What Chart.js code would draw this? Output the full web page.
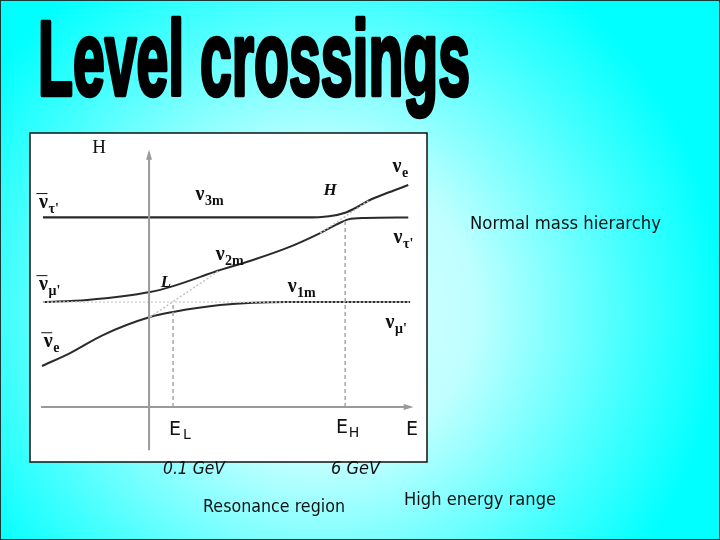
<!DOCTYPE html>
<html>
<head>
<meta charset="utf-8">
<script src="https://cdn.jsdelivr.net/npm/chart.js@4.4.1/dist/chart.umd.min.js"></script>
<style>
  html, body { margin: 0; padding: 0; background: #00ffff; }
  canvas { display: block; }
</style>
</head>
<body>
<canvas id="levels" width="720" height="540"></canvas>
<script>
// Energy (x) and H (y) in diagram units; vertical axis at E = 0, horizontal axis at H = 0
const level1 = 4.375;   // nu_mu' / nu_1m level
const level3 = 7.9;     // nu_tau' / nu_3m level
const E_L = 1;
const E_H = 8.17;

// nu_3m: flat, bends up into nu_e after the H crossing
const nu3mE = [-4.42, 6.5, 7.5, 8.17, 8.7, 9.2, 10, 10.8];
const nu3mH = [7.9, 7.9, 7.95, 8.1, 8.35, 8.63, 8.95, 9.25];

// nu_2m: from nu_mu' on the left, through L, flattens into nu_tau' on the right
const nu2mE = [-4.42, -2.58, 0.04, 1, 2.96, 4.33, 5.75, 7.13, 7.8, 8.3, 9, 10.8];
const nu2mH = [4.375, 4.46, 4.79, 5.04, 5.71, 6.13, 6.63, 7.25, 7.6, 7.82, 7.88, 7.9];

// nu_1m: from nu_e on the left, flattens into nu_mu' on the right
const nu1mE = [-4.46, -3.29, -1.92, 0.04, 1, 2.96, 5.75, 10.875];
const nu1mH = [1.71, 2.25, 3.0, 3.75, 3.96, 4.25, 4.375, 4.375];

// diabatic (non-adiabatic) continuations, dotted
const diabLE = [0.04, 2.96];
const diabLH = [3.75, 5.71];
const diabHE = [7.13, 9.2];
const diabHH = [7.25, 8.63];

const axisE = [-4.5, 10.9];
const axisH = [-1.8, 10.6];

const pts = (xs, ys) => xs.map((x, i) => ({ x: x, y: ys[i] }));

// text labels inside the diagram: [main, subscript, E, H, style]
const diagLabels = [
  ['H', '', -2.08, 10.79, 'serif'],
  ['ν', 'τ\'', -4.4, 8.5, 'bar'],
  ['ν', 'μ\'', -4.4, 5.08, 'bar'],
  ['ν', 'e', -4.2, 2.7, 'bar'],
  ['ν', '3m', 2.125, 8.83, 'nu'],
  ['H', '', 7.54, 9.04, 'italic'],
  ['ν', 'e', 10.33, 10.0, 'nu'],
  ['ν', 'τ\'', 10.375, 7.04, 'nu'],
  ['ν', '2m', 2.96, 6.33, 'nu'],
  ['L', '', 0.7, 5.2, 'italic'],
  ['ν', '1m', 5.96, 5.0, 'nu'],
  ['ν', 'μ\'', 10.04, 3.5, 'nu'],
  ['E', 'L', 1.08, -0.96, 'sans'],
  ['E', 'H', 8.04, -0.875, 'sans'],
  ['E', '', 10.96, -0.96, 'sans']
];

const BOX = { l: 30, t: 133, r: 427, b: 462 };
const lineGrey = '#9a9a9a';
const curveDark = '#2a2a2a';

function fitText(ctx, text, x, y, width, font) {
  ctx.save();
  ctx.font = font;
  const w = ctx.measureText(text).width;
  ctx.translate(x, y);
  ctx.scale(width / w, 1);
  ctx.fillText(text, 0, 0);
  ctx.restore();
}

const slidePlugin = {
  id: 'slide',
  beforeDraw(chart) {
    const ctx = chart.ctx;
    const g = ctx.createRadialGradient(320, 310, 10, 320, 310, 420);
    g.addColorStop(0, '#d8ffff');
    g.addColorStop(0.35, '#c0ffff');
    g.addColorStop(0.75, '#40ffff');
    g.addColorStop(0.96, '#00ffff');
    ctx.save();
    ctx.fillStyle = g;
    ctx.fillRect(0, 0, 720, 540);
    ctx.strokeStyle = '#1a3a3a';
    ctx.lineWidth = 1;
    ctx.strokeRect(0.5, 0.5, 719, 539);
    ctx.fillStyle = '#ffffff';
    ctx.fillRect(BOX.l, BOX.t, BOX.r - BOX.l, BOX.b - BOX.t);
    ctx.strokeStyle = '#111111';
    ctx.lineWidth = 1.5;
    ctx.strokeRect(BOX.l, BOX.t, BOX.r - BOX.l, BOX.b - BOX.t);
    ctx.restore();
  },
  afterDraw(chart) {
    const ctx = chart.ctx;
    const sx = chart.scales.x, sy = chart.scales.y;
    ctx.save();

    // arrow heads on the axes
    ctx.fillStyle = lineGrey;
    let ax = sx.getPixelForValue(axisE[1]), ay = sy.getPixelForValue(0);
    ctx.beginPath();
    ctx.moveTo(ax + 3, ay); ctx.lineTo(ax - 7, ay - 3); ctx.lineTo(ax - 7, ay + 3);
    ctx.closePath(); ctx.fill();
    ax = sx.getPixelForValue(0); ay = sy.getPixelForValue(axisH[1]);
    ctx.beginPath();
    ctx.moveTo(ax, ay - 3); ctx.lineTo(ax - 3, ay + 7); ctx.lineTo(ax + 3, ay + 7);
    ctx.closePath(); ctx.fill();

    // diagram labels
    ctx.fillStyle = '#111111';
    ctx.textBaseline = 'middle';
    ctx.textAlign = 'center';
    diagLabels.forEach(([main, sub, e, h, style]) => {
      const px = sx.getPixelForValue(e), py = sy.getPixelForValue(h);
      if (style === 'sans') {
        ctx.font = '19px "DejaVu Sans"';
        ctx.fillText(main, px, py);
        if (sub) {
          ctx.font = '14px "DejaVu Sans"';
          ctx.fillText(sub, px + 12, py + 5);
        }
        return;
      }
      if (style === 'serif') {
        ctx.font = '19px "Liberation Serif"';
        ctx.fillText(main, px, py);
        return;
      }
      if (style === 'italic') {
        ctx.font = 'italic bold 17px "Liberation Serif"';
        ctx.fillText(main, px, py);
        return;
      }
      ctx.font = 'bold 20px "Liberation Serif"';
      ctx.fillText(main, px, py);
      ctx.font = 'bold 14px "Liberation Serif"';
      ctx.textAlign = 'left';
      ctx.fillText(sub, px + 5, py + 6);
      ctx.textAlign = 'center';
      if (style === 'bar') {
        ctx.strokeStyle = '#111111';
        ctx.lineWidth = 1;
        ctx.beginPath();
        ctx.moveTo(px - 7, py - 9.5); ctx.lineTo(px + 4, py - 9.5);
        ctx.stroke();
      }
    });

    // slide title, thickened with a stroke to look like a heavy condensed face
    ctx.textAlign = 'left';
    ctx.textBaseline = 'alphabetic';
    ctx.fillStyle = '#000000';
    ctx.strokeStyle = '#000000';
    ctx.save();
    ctx.font = 'bold 106px "Liberation Sans Narrow", "Liberation Sans"';
    const tw = ctx.measureText('Level crossings').width;
    ctx.translate(38, 95);
    ctx.scale(432 / tw, 1.0);
    ctx.lineWidth = 4.5;
    ctx.lineJoin = 'round';
    ctx.fillText('Level crossings', 0, 0);
    ctx.strokeText('Level crossings', 0, 0);
    ctx.restore();

    // annotations around the diagram
    ctx.textBaseline = 'middle';
    ctx.fillStyle = '#111111';
    fitText(ctx, 'Normal mass hierarchy', 470, 225, 191, '17px "DejaVu Sans"');
    fitText(ctx, '0.1 GeV', 163, 470, 62, 'oblique 17px "DejaVu Sans"');
    fitText(ctx, '6 GeV', 331, 470, 49, 'oblique 17px "DejaVu Sans"');
    fitText(ctx, 'Resonance region', 203, 508, 142, '17px "DejaVu Sans"');
    fitText(ctx, 'High energy range', 404, 501, 152, '17px "DejaVu Sans"');
    ctx.restore();
  }
};

new Chart(document.getElementById('levels'), {
  type: 'scatter',
  data: {
    datasets: [
      { data: pts(axisE, [0, 0]), borderColor: lineGrey, borderWidth: 2 },
      { data: pts([0, 0], axisH), borderColor: lineGrey, borderWidth: 2 },
      { data: pts([-4.42, 10.875], [level1, level1]), borderColor: '#d2d2d2', borderWidth: 1.5, borderDash: [2, 2] },
      { data: pts(diabLE, diabLH), borderColor: '#c4c4c4', borderWidth: 1.5, borderDash: [2, 2] },
      { data: pts(diabHE, diabHH), borderColor: '#c4c4c4', borderWidth: 1.5, borderDash: [2, 2] },
      { data: pts([E_L, E_L], [0, level1]), borderColor: '#a8a8a8', borderWidth: 1.5, borderDash: [4, 3] },
      { data: pts([E_H, E_H], [0, level3]), borderColor: '#a8a8a8', borderWidth: 1.5, borderDash: [4, 3] },
      { data: pts(nu3mE, nu3mH), borderColor: curveDark, borderWidth: 2.2, cubicInterpolationMode: 'monotone' },
      { data: pts(nu2mE, nu2mH), borderColor: curveDark, borderWidth: 2, cubicInterpolationMode: 'monotone' },
      { data: pts(nu1mE, nu1mH), borderColor: curveDark, borderWidth: 2, cubicInterpolationMode: 'monotone' }
    ].map(d => Object.assign({ showLine: true, pointRadius: 0, fill: false }, d))
  },
  options: {
    responsive: false,
    animation: false,
    layout: { padding: { left: BOX.l, top: BOX.t, right: 720 - BOX.r, bottom: 540 - BOX.b } },
    scales: {
      x: { type: 'linear', min: -4.96, max: 11.58, display: false },
      y: { type: 'linear', min: -2.29, max: 11.42, display: false }
    },
    plugins: { legend: { display: false }, tooltip: { enabled: false } }
  },
  plugins: [slidePlugin]
});
</script>
</body>
</html>
